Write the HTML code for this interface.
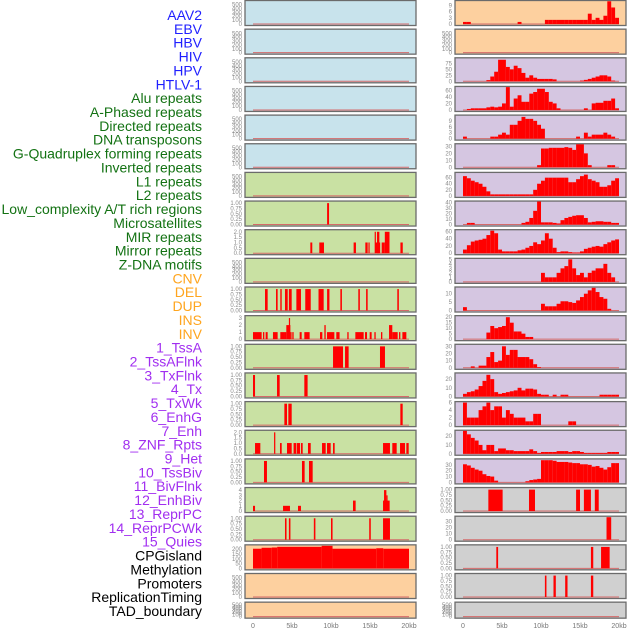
<!DOCTYPE html>
<html><head><meta charset="utf-8"><style>
body{margin:0;background:#fff;width:630px;height:630px;overflow:hidden}
svg{display:block;font-family:"Liberation Sans",sans-serif}
</style></head><body>
<svg id="chart" width="630" height="630" viewBox="0 0 630 630"></svg>
<script>
const labels=["AAV2","EBV","HBV","HIV","HPV","HTLV-1","Alu repeats","A-Phased repeats","Directed repeats","DNA transposons","G-Quadruplex forming repeats","Inverted repeats","L1 repeats","L2 repeats","Low_complexity A/T rich regions","Microsatellites","MIR repeats","Mirror repeats","Z-DNA motifs","CNV","DEL","DUP","INS","INV","1_TssA","2_TssAFlnk","3_TxFlnk","4_Tx","5_TxWk","6_EnhG","7_Enh","8_ZNF_Rpts","9_Het","10_TssBiv","11_BivFlnk","12_EnhBiv","13_ReprPC","14_ReprPCWk","15_Quies","CPGisland","Methylation","Promoters","ReplicationTiming","TAD_boundary"];
const labelGroups=[6,13,5,15,5];
const groupColors=["#1f1fff","#137213","#ffa51e","#a12ef0","#000000"];
const xTicks=[0,5,10,15,20];
const xTickLabels=["0","5kb","10kb","15kb","20kb"];
const leftBg=["b","b","b","b","b","b","g","g","g","g","g","g","g","g","g","g","g","g","g","o","o","o"];
const leftMax=[580,580,580,580,580,580,580,1.05,2.1,580,1.05,3.2,1.05,1.05,1.05,2.1,1.05,4.3,1.05,235,580,580];
const leftTicks=[[0,100,200,300,400,500],[0,100,200,300,400,500],[0,100,200,300,400,500],[0,100,200,300,400,500],[0,100,200,300,400,500],[0,100,200,300,400,500],[0,100,200,300,400,500],[0,0.25,0.5,0.75,1],[0,0.5,1,1.5,2],[0,100,200,300,400,500],[0,0.25,0.5,0.75,1],[0,1,2,3],[0,0.25,0.5,0.75,1],[0,0.25,0.5,0.75,1],[0,0.25,0.5,0.75,1],[0,0.5,1,1.5,2],[0,0.25,0.5,0.75,1],[0,1,2,3,4],[0,0.25,0.5,0.75,1],[0,50,100,150,200],[0,100,200,300,400,500],[0,100,200,300,400,500]];
const leftSeries=[[],[],[],[],[],[],[],
[[9.5,9.75,1]],
[[7.35,7.6,1],[8.5,9.1,1],[12.9,13.2,1],[14.4,14.7,1],[14.8,14.9,1],[15.6,15.7,2],[15.7,16.3,1],[15.9,16.2,2],[16.5,16.9,1],[16.9,17.5,2],[18.9,19.2,1]],
[],
[[1.54,1.88,1],[2.95,3.16,1],[3.5,3.68,1],[4.1,4.45,1],[4.6,4.96,1],[5.56,6.15,1],[6.7,7.4,1],[8.4,9.06,1],[9.5,9.8,1],[11.2,11.4,1],[13.5,13.7,1],[14.5,14.7,1],[18.5,18.7,1]],
[[0,1.11,1],[1.28,1.45,1],[1.62,1.88,1],[2.56,3.16,1],[3.5,4.1,1],[4.1,4.27,1],[4.27,4.79,2],[4.6,4.72,3],[4.79,4.87,1],[5.04,5.21,1],[5.98,6.24,1],[6.58,7.26,1],[8.59,8.89,1],[9.15,9.32,2],[9.49,10.43,1],[10.68,11.1,1],[12.09,12.26,1],[13.12,14.19,1],[14.36,14.62,1],[14.96,15.21,1],[15.56,15.73,1],[16.41,16.58,1],[17.44,17.86,2],[17.86,18.55,1],[18.72,18.89,1],[19.15,19.66,1]],
[[10.26,11.54,1],[11.8,12.26,1],[16.28,16.92,1]],
[[0,0.26,1],[3.08,3.42,1],[6.58,7.0,1]],
[[4.02,4.36,1],[4.53,4.96,1],[18.89,19.19,1]],
[[0.26,0.94,1],[2.7,2.86,2],[3.46,3.68,1],[4.36,4.96,1],[5.2,5.56,1],[5.64,6.03,1],[6.15,6.37,1],[7.05,7.4,1],[8.85,9.32,1],[9.49,9.96,1],[10.26,10.47,1],[16.67,17.56,1],[17.86,18.42,1],[18.85,19.49,1],[19.66,19.96,1]],
[[1.41,1.79,1],[6.28,6.62,1],[7.18,7.65,1]],
[[0,0.26,1],[3.85,4.74,1],[5.77,6.15,1],[12.82,13.16,2],[16.67,17.52,2],[16.8,17.1,4],[17.1,17.25,3]],
[[4.1,4.3,1],[4.6,4.8,1],[7.8,8.0,1],[10.0,10.2,1],[14.9,15.1,1],[16.67,17.56,1]],
[[0,1.1,205],[1.1,2.4,215],[2.4,3.1,218],[3.1,8.8,225],[8.8,10.2,235],[10.2,15.8,205],[15.8,16.7,210],[16.7,20,205]],
[],[]];
const rightBg=["o","o","p","p","p","p","p","p","p","p","p","p","p","p","p","p","p","r","r","r","r","r"];
const rightMax=[10.9,580,94,69,11.4,32.4,74,41,62,5,13.4,20.5,31.4,26,6,25.5,38.5,1.05,37.4,1.05,1.05,580];
const rightTicks=[[0,3,6,9],[0,100,200,300,400,500],[0,25,50,75],[0,20,40,60],[0,3,6,9],[0,10,20,30],[0,20,40,60],[0,10,20,30,40],[0,20,40,60],[0,1,2,3,4,5],[0,5,10],[0,5,10,15,20],[0,10,20,30],[0,10,20],[0,2,4,6],[0,10,20],[0,10,20,30],[0,0.25,0.5,0.75,1],[0,10,20,30],[0,0.25,0.5,0.75,1],[0,0.25,0.5,0.75,1],[0,100,200,300,400,500]];
const rightBins=[
[1,1,0,0,0,0,0,0,0,0,0,0,0,0,1,0,0,0,0,0,0,2,2,2,2,2,2,2,2,2,2,2,5,2,3,2,4,11,8,3],
[],
[0,0,0,0,0,0,5,20,40,90,90,60,50,65,55,35,15,25,15,10,10,10,10,8,0,0,0,0,0,0,3,6,10,15,20,25,25,20,3,0],
[0,3,5,5,5,5,8,10,8,10,20,70,10,35,45,25,25,50,55,65,65,55,25,20,5,0,0,0,0,0,0,5,0,20,22,22,28,28,35,5],
[1,0,0,0,0,0,0,1,1,2,3,2,7,7,9,11,10,10,9,7,5,0,0,0,0,0,0,0,0,1,0,3,1,2,2,2,3,2,1,0],
[0,0,0,0,0,0,0,0,0,0,0,0,0,0,0,0,0,0,0,3,27,27,28,28,28,28,29,28,25,33,33,20,3,0,0,0,0,3,3,0],
[65,58,50,45,40,30,15,5,5,5,5,5,5,5,5,5,5,5,20,40,50,60,60,60,60,60,60,45,45,55,65,70,55,50,45,30,30,35,50,58],
[0,3,3,0,0,0,0,0,0,0,0,0,0,0,0,3,5,12,25,42,4,4,4,3,2,8,12,14,16,17,17,12,4,5,6,6,5,5,3,3],
[10,22,32,35,37,40,50,62,55,10,5,5,5,5,8,10,15,20,30,25,35,55,40,15,3,5,5,3,2,2,5,12,15,18,20,18,25,30,35,38],
[0,0,0,0,0,0,0,0,0,0,0,0,0,0,0,0,0,0,0,0,2,1,1,1,2,3,3.5,5,3,1.5,2,1,2,2.5,3,3,4,2,1,0],
[2,0,0,0,0,0,0,0,0,0,0,0,0,0,0,0,0,0,0,0,4,2.5,2.5,2.5,4,5.5,5.5,5,4.5,6,8,10,12,13.5,11,8,7,1,0,0],
[0,0,0,0,0,0,6,12,10,11,12,20,15,7,7,5,2,2,0,0,0,0,0,0,0,0,0,0,0,0,0,0,0,0,0,0,0,0,0,0],
[0,0,2,0,3,3,15,22,8,10,30,18,25,25,15,15,15,12,5,1,0,0,0,0,0,0,0,0,0,0,0,0,0,0,0,0,0,0,0,0],
[3,5,6,8,12,18,25,20,5,3,4,5,6,7,10,7,9,9,8,3,2,2,0,2,0,2,2,0,0,0,0,0,0,0,0,2,2,2,2,2],
[6,2,2,2,4,5,6,4,5,5,2,4,3,2,2,2,1,1,3,3,0,0,0,0,0,0,0,1,1,0,0,0,0,0,0,0,0,0,0,0],
[26,22,18,15,10,4,10,10,3,6,6,4,4,3,3,3,3,5,3,1,2,2,2,2,3,3,3,2,3,3,2,1,1,1,1,1,1,2,2,2],
[31,29,25,22,20,14,11,10,3,0,0,0,0,0,0,0,2,4,5,6,38,38,38,37,35,35,35,34,33,33,31,31,30,27,28,25,22,26,33,33],
[],[],[],[],[]];
const rightIntervals=[[],[],[],[],[],[],[],[],[],[],[],[],[],[],[],[],[],
[[3.25,5.08,1],[8.46,9.23,1],[14.5,15.0,1],[15.5,16.4,1],[16.9,17.4,1]],
[[18.4,19.0,37.4]],
[[4.27,4.5,1],[16.4,16.7,1],[17.7,18.8,1]],
[[10.5,10.7,1],[11.6,11.9,1],[13.1,13.4,1],[16.4,16.7,1]],
[]];

const NS="http://www.w3.org/2000/svg";
const svg=document.getElementById("chart");
const bgColors={b:"#c8e3ec",g:"#c9e1a3",o:"#fdd09f",p:"#d5c6e1",r:"#d0d0d0"};
function el(tag,attrs,parent){const e=document.createElementNS(NS,tag);for(const k in attrs)e.setAttribute(k,attrs[k]);(parent||svg).appendChild(e);return e;}
function rowTop(i){return i*28.65+0.5;}
function rowH(i){return i===21?16:25;}
function xScale(col,kb){return (col===0?253:463)+kb*7.8;}
function yScale(i,max,v){const base=rowTop(i)+rowH(i)-1.5;const top=rowTop(i)+1;return base-(v/max)*(base-top);}
function decimals(ticks){let d=0;ticks.forEach(t=>{const s=String(t);if(s.indexOf('.')>=0)d=Math.max(d,s.split('.')[1].length);});return d;}

// labels
let li=0;
labelGroups.forEach((n,g)=>{for(let k=0;k<n;k++){const t=el("text",{x:202,y:20+li*13.86,"text-anchor":"end","font-size":"14",fill:groupColors[g]});


t.textContent=labels[li];li++;}});

function drawPanel(col,i,bg,max,ticks,bars){
  const x0=col===0?245:455, w=171, top=rowTop(i), h=rowH(i);
  const g=el("g",{});
  
  
  el("rect",{x:x0,y:top,width:w,height:h,fill:bgColors[bg],stroke:"#6b6b6b","stroke-width":1.3},g);
  const d=decimals(ticks);
  ticks.forEach(t=>{const y=yScale(i,max,t);const tx=el("text",{x:x0-3,y:y+2,"text-anchor":"end","font-size":"6",fill:"#8a8a8a"},g);
    
    
    tx.textContent=t.toFixed(d);});
  el("line",{x1:xScale(col,0),x2:xScale(col,20),y1:yScale(i,max,0),y2:yScale(i,max,0),stroke:"#d46a6a","stroke-width":1},g);
  bars.forEach(b=>{const y=yScale(i,max,b[2]);const r=el("rect",{x:xScale(col,b[0]),y:y,width:Math.max(1.2,xScale(col,b[1])-xScale(col,b[0])),height:yScale(i,max,0)-y,fill:"#ff0000"},g);
    
    });
}
for(let i=0;i<22;i++){
  drawPanel(0,i,leftBg[i],leftMax[i],leftTicks[i],leftSeries[i]);
  const bars=rightIntervals[i].slice();
  rightBins[i].forEach((v,k)=>{if(v>0)bars.push([k*0.5,k*0.5+0.5,v]);});
  drawPanel(1,i,rightBg[i],rightMax[i],rightTicks[i],bars);
}
[0,1].forEach(col=>{xTicks.forEach((t,k)=>{const tx=el("text",{x:xScale(col,t),y:628,"text-anchor":"middle","font-size":"7",fill:"#777"});
  
  
  tx.textContent=xTickLabels[k];});});
</script>
</body></html>
